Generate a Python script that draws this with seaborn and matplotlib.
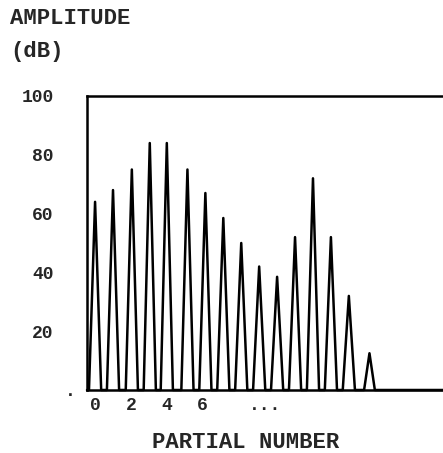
import numpy as np
import pandas as pd
import matplotlib
matplotlib.use("Agg")
import matplotlib.pyplot as plt
import seaborn as sns

# partial positions and peak amplitudes (dB)
partials = [0, 1, 2.05, 3.05, 4, 5.15, 6.15, 7.15, 8.15, 9.15, 10.15, 11.15, 12.15, 13.15, 14.15, 15.3]
amplitude = [64, 68, 75, 84, 84, 75, 67, 58.5, 50, 42, 38.5, 52, 72, 52, 32, 12.5]
half_width = [0.34] * 15 + [0.3]

xtick_pos = [0, 2, 4, 6, 9.45]
xtick_labels = ["0", "2", "4", "6", "..."]
ytick_pos = [20, 40, 60, 80, 100]
ytick_labels = ["20", "40", "60", "80", "100"]

sns.set_style("white")
plt.rcParams["font.family"] = ["Liberation Mono", "DejaVu Sans"]
plt.rcParams["font.weight"] = "bold"

# spectrum drawn as triangles along the baseline
px, py = [-0.45], [0]
for p, a, w in zip(partials, amplitude, half_width):
    px += [p - w, p, p + w]
    py += [0, a, 0]
px.append(19.4)
py.append(0)
spec = pd.DataFrame({"partial": px, "db": py})

fig = plt.figure(figsize=(4.43, 4.53), dpi=100)
ax = fig.add_axes([87 / 443, 1 - 390 / 453, 1 - 87 / 443, 294 / 453])
sns.lineplot(data=spec, x="partial", y="db", sort=False, estimator=None,
             color="black", linewidth=1.8, ax=ax, clip_on=False)

ax.set_xlim(-0.45, 19.4)
ax.set_ylim(0, 100)
for s in ["left", "bottom", "top"]:
    ax.spines[s].set_linewidth(1.8)
    ax.spines[s].set_color("black")
ax.spines["right"].set_visible(False)

ax.set_xticks(xtick_pos, xtick_labels)
ax.set_yticks(ytick_pos, ytick_labels)
ax.tick_params(axis="both", length=0, labelsize=13)
ax.tick_params(axis="y", pad=24)
ax.tick_params(axis="x", pad=5)
for lab in ax.get_xticklabels() + ax.get_yticklabels():
    lab.set_fontweight("bold")
ax.set_xlabel("")
ax.set_ylabel("")

fig.text(70 / 443, 1 - 392 / 453, ".", ha="center", va="center", fontsize=13, fontweight="bold")
fig.text(10 / 443, 1 - 18 / 453, "AMPLITUDE", ha="left", va="center", fontsize=16, fontweight="bold")
fig.text(10 / 443, 1 - 52 / 453, "(dB)", ha="left", va="center", fontsize=16, fontweight="bold")
fig.text(246 / 443, 1 - 443 / 453, "PARTIAL NUMBER", ha="center", va="center", fontsize=16, fontweight="bold")

fig.savefig("out.png", dpi=100)
